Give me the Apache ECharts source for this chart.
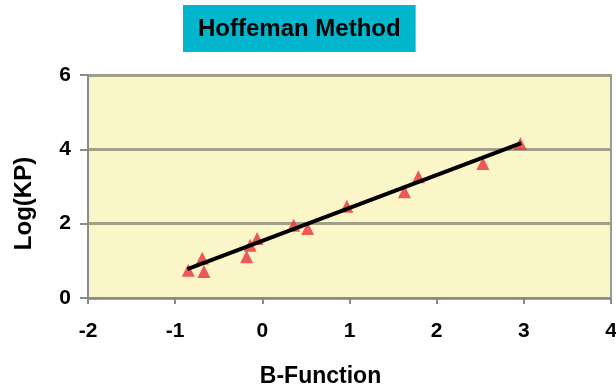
<!DOCTYPE html>
<html>
<head>
<meta charset="utf-8">
<script src="https://cdn.jsdelivr.net/npm/echarts@6/dist/echarts.min.js"></script>
<style>html,body{margin:0;padding:0;background:#fff;}#c{width:616px;height:390px;}</style>
</head>
<body>
<div id="c"></div>
<script>
const titleText = "Hoffeman Method";
const xName = "B-Function";
const yName = "Log(KP)";
const pointsX = [-0.85, -0.69, -0.67, -0.18, -0.14, -0.06, 0.36, 0.52, 0.97, 1.63, 1.79, 2.53, 2.96];
const pointsY = [0.75, 1.07, 0.71, 1.11, 1.42, 1.60, 1.96, 1.87, 2.47, 2.86, 3.26, 3.62, 4.16];
const trendX = [-0.86, 2.97];
const trendY = [0.78, 4.17];

const chart = echarts.init(document.getElementById('c'), null, {renderer: 'canvas'});
const font = '"Liberation Sans", Arial, sans-serif';
chart.setOption({
  animation: false,
  backgroundColor: '#ffffff',
  title: {
    text: titleText,
    left: 183, top: 5,
    padding: [12, 15, 11, 15],
    backgroundColor: '#00b5cc',
    textStyle: {fontFamily: font, fontSize: 24, fontWeight: 'bold', color: '#000', lineHeight: 24}
  },
  grid: {
    left: 88, right: 5, top: 75, bottom: 92,
    outerBoundsMode: 'none', containLabel: false,
    show: true, backgroundColor: '#faf6c8', borderColor: '#9a9a9a', borderWidth: 2
  },
  xAxis: {
    type: 'value', min: -2, max: 4, interval: 1,
    name: xName, nameLocation: 'middle', nameGap: 67,
    nameTextStyle: {fontFamily: font, fontSize: 23, fontWeight: 'bold', color: '#000', padding: [0, 58, 0, 0]},
    axisLine: {onZero: false, lineStyle: {color: '#8a8a8a', width: 2}},
    axisTick: {show: true, length: 6, lineStyle: {color: '#8a8a8a', width: 2}},
    axisLabel: {fontFamily: font, fontSize: 21, fontWeight: 'bold', color: '#000', margin: 23},
    splitLine: {show: false}
  },
  yAxis: {
    type: 'value', min: 0, max: 6, interval: 2,
    name: yName, nameLocation: 'middle', nameGap: 52, nameRotate: 90,
    nameTextStyle: {fontFamily: font, fontSize: 24, fontWeight: 'bold', color: '#000', padding: [0, 34, 0, 0]},
    axisLine: {show: true, onZero: false, lineStyle: {color: '#8a8a8a', width: 2}},
    axisTick: {show: true, length: 8, lineStyle: {color: '#8a8a8a', width: 2}},
    axisLabel: {fontFamily: font, fontSize: 21, fontWeight: 'bold', color: '#000', margin: 17},
    splitLine: {show: true, lineStyle: {color: '#a09f88', width: 3}}
  },
  series: [
    {
      type: 'line',
      data: trendX.map((x, i) => [x, trendY[i]]),
      showSymbol: false,
      lineStyle: {color: '#000', width: 4},
      z: 3
    },
    {
      type: 'scatter',
      data: pointsX.map((x, i) => [x, pointsY[i]]),
      symbol: 'triangle', symbolSize: 13,
      itemStyle: {color: '#e8323a'},
      z: 2
    }
  ]
});
</script>
</body>
</html>
